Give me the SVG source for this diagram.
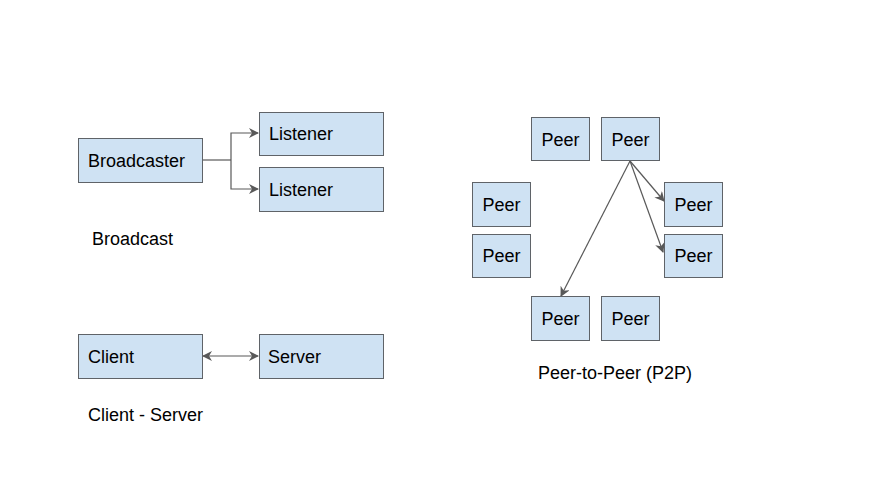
<svg xmlns="http://www.w3.org/2000/svg" width="882" height="478" viewBox="0 0 882 478">
<style>
.box{fill:#cfe2f3;stroke:#5f6368;stroke-width:1}
.t{font-family:"Liberation Sans",Arial,sans-serif;font-size:18px;fill:#000}
.c{text-anchor:middle}
.ln{fill:none;stroke:#595959;stroke-width:1.2}
</style>
<defs>
<marker id="ah" viewBox="0 0 10 10" refX="9" refY="5" markerWidth="10" markerHeight="10" markerUnits="userSpaceOnUse" orient="auto-start-reverse">
<path d="M0,0 L10,5 L0,10 L3,5 z" fill="#595959"/>
</marker>
</defs>
<rect width="882" height="478" fill="#fff"/>
<g id="connectors">
<polyline class="ln" points="202,160 231,160"/>
<polyline class="ln" points="231,160 231,133 258,133" marker-end="url(#ah)"/>
<polyline class="ln" points="231,160 231,189 258,189" marker-end="url(#ah)"/>
<line class="ln" x1="203" y1="356" x2="258" y2="356" marker-start="url(#ah)" marker-end="url(#ah)"/>
<line class="ln" x1="630" y1="161" x2="664" y2="201" marker-end="url(#ah)"/>
<line class="ln" x1="630" y1="161" x2="663" y2="252" marker-end="url(#ah)"/>
<line class="ln" x1="630" y1="161" x2="561" y2="296" marker-end="url(#ah)"/>
</g>
<g id="broadcaster"><rect class="box" x="78.5" y="138.5" width="124" height="44"/><text class="t" x="88" y="166.5">Broadcaster</text></g>
<g id="listener1"><rect class="box" x="259.5" y="112.5" width="124" height="43"/><text class="t" x="269" y="140">Listener</text></g>
<g id="listener2"><rect class="box" x="259.5" y="167.5" width="124" height="44"/><text class="t" x="269" y="195.5">Listener</text></g>
<g id="label-broadcast"><text class="t" x="92" y="245">Broadcast</text></g>
<g id="client"><rect class="box" x="78.5" y="334.5" width="124" height="44"/><text class="t" x="88" y="362.5">Client</text></g>
<g id="server"><rect class="box" x="259.5" y="334.5" width="124" height="44"/><text class="t" x="268" y="362.5">Server</text></g>
<g id="label-cs"><text class="t" x="88" y="421">Client - Server</text></g>
<g id="peer1"><rect class="box" x="531.5" y="117.5" width="58" height="43"/><text class="t c" x="560.5" y="145.5">Peer</text></g>
<g id="peer2"><rect class="box" x="601.5" y="117.5" width="58" height="43"/><text class="t c" x="630.5" y="145.5">Peer</text></g>
<g id="peer3"><rect class="box" x="472.5" y="182.5" width="58" height="44"/><text class="t c" x="501.5" y="210.5">Peer</text></g>
<g id="peer4"><rect class="box" x="472.5" y="234.5" width="58" height="43"/><text class="t c" x="501.5" y="262">Peer</text></g>
<g id="peer5"><rect class="box" x="664.5" y="182.5" width="58" height="44"/><text class="t c" x="693.5" y="210.5">Peer</text></g>
<g id="peer6"><rect class="box" x="664.5" y="234.5" width="58" height="43"/><text class="t c" x="693.5" y="262">Peer</text></g>
<g id="peer7"><rect class="box" x="531.5" y="296.5" width="58" height="44"/><text class="t c" x="560.5" y="324.5">Peer</text></g>
<g id="peer8"><rect class="box" x="601.5" y="296.5" width="58" height="44"/><text class="t c" x="630.5" y="324.5">Peer</text></g>
<g id="label-p2p"><text class="t" x="538" y="379">Peer-to-Peer (P2P)</text></g>
</svg>
